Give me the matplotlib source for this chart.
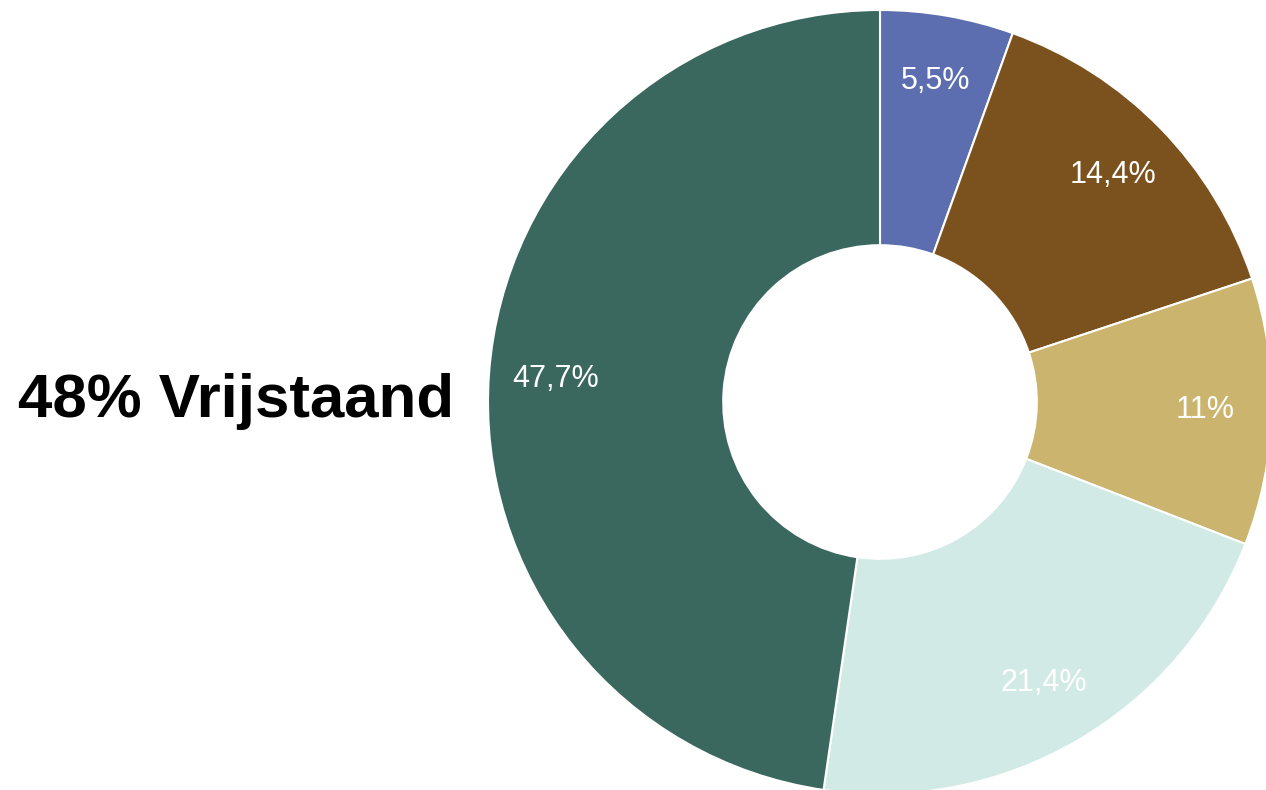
import matplotlib.pyplot as plt

# woningtypes, met de klok mee vanaf boven
shares = [5.5, 14.4, 11.0, 21.4, 47.7]
colors = ['#5c6eb0', '#7b521e', '#cbb56e', '#d2eae5', '#3a675e']
headline = "48% Vrijstaand"


def fmt_pct(p):
    s = f"{p:.1f}".replace('.', ',')
    if s.endswith(',0'):
        s = s[:-2]
    return s + '%'


fig = plt.figure(figsize=(12.66, 7.90), dpi=100)
ax = fig.add_axes([0, 0, 1, 1])

R = 392
wedges, texts, autotexts = ax.pie(
    shares,
    colors=colors,
    startangle=90,
    counterclock=False,
    center=(880, 388),
    radius=R,
    autopct=fmt_pct,
    pctdistance=0.83,
    wedgeprops=dict(width=0.6 * R, edgecolor='white', linewidth=1.5),
    textprops=dict(color='white', fontsize=22, family='Liberation Sans'),
    frame=True,
)
ax.set_xlim(0, 1266)
ax.set_ylim(0, 790)
ax.axis('off')

ax.text(18, 388, headline, fontsize=44.5, fontweight='bold',
        family='Liberation Sans', ha='left', va='center', color='black')

fig.savefig('out.png', dpi=100)
